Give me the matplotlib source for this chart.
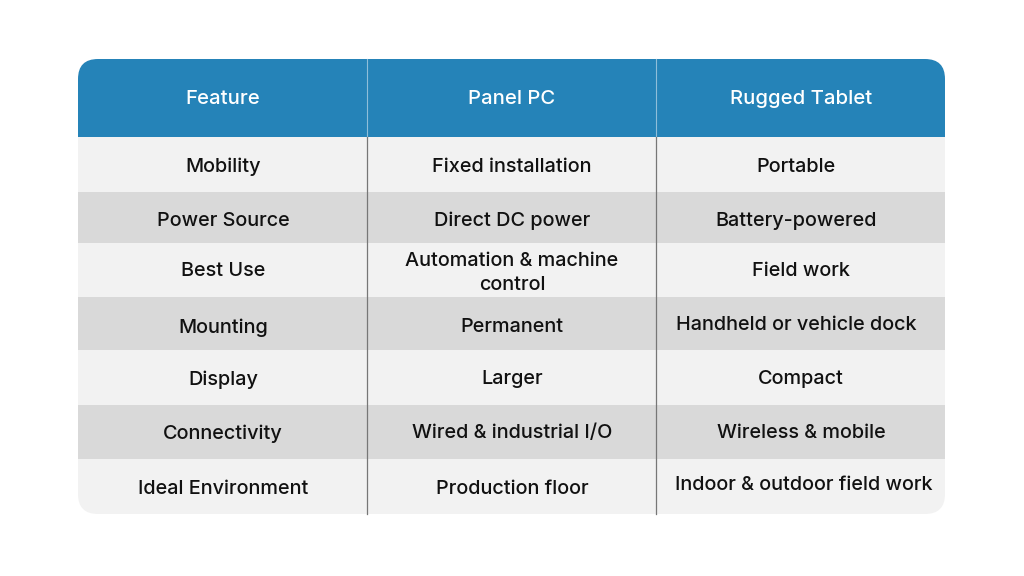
import matplotlib
matplotlib.use("Agg")
import matplotlib.pyplot as plt
from matplotlib.patches import FancyBboxPatch, Rectangle

W, H = 1024, 576

headers = ["Feature", "Panel PC", "Rugged Tablet"]
features = ["Mobility", "Power Source", "Best Use", "Mounting", "Display", "Connectivity", "Ideal Environment"]
panel_pc = ["Fixed installation", "Direct DC power", "Automation & machine\ncontrol", "Permanent", "Larger",
            "Wired & industrial I/O", "Production floor"]
rugged = ["Portable", "Battery-powered", "Field work", "Handheld or vehicle dock", "Compact",
          "Wireless & mobile", "Indoor & outdoor field work"]

# layout in reference pixels
col_edges = [78, 367, 656, 945]
row_edges = [137, 192, 243, 297, 350, 405, 459, 514]
top = 59
header_x = [223, 512, 801]
rugged_x = [796, 796, 801, 796, 801, 801, 804]
rugged_y = [164.5, 218.5, 269.5, 323, 377.5, 431.5, 483.5]
row_y = [164.5, 218.5, 268.5, 325.5, 377.5, 431.5, 487.5]

plt.rcParams['font.family'] = ['Inter', 'Open Sans', 'DejaVu Sans']

fig = plt.figure(figsize=(W / 100, H / 100), dpi=100, facecolor="white")
ax = fig.add_axes([0, 0, 1, 1])
ax.set_xlim(0, W)
ax.set_ylim(H, 0)
ax.axis("off")

# rounded card, used as clip for the rows
card = FancyBboxPatch((col_edges[0] + 20, top + 20), col_edges[-1] - col_edges[0] - 40, row_edges[-1] - top - 40,
                      boxstyle="round,pad=20,rounding_size=20", fc="none", ec="none")
ax.add_patch(card)

hdr = Rectangle((78, top), 867, row_edges[0] - top, fc="#2583B8", ec="none")
ax.add_patch(hdr)
hdr.set_clip_path(card)

for i in range(7):
    color = "#F2F2F2" if i % 2 == 0 else "#D9D9D9"
    r = Rectangle((78, row_edges[i]), 867, row_edges[i + 1] - row_edges[i], fc=color, ec="none")
    ax.add_patch(r)
    r.set_clip_path(card)

for x in col_edges[1:3]:
    ax.plot([x, x], [top, row_edges[0]], color="#8FBEDA", lw=0.8)
    ax.plot([x, x], [row_edges[0], row_edges[-1]], color="#777777", lw=0.9)

for t, x in zip(headers, header_x):
    ax.text(x, 96.5, t, color="white", fontsize=14.6, fontweight="medium", ha="center", va="center_baseline")

for i in range(7):
    ax.text(223, row_y[i], features[i], color="#111111", fontsize=14.3, fontweight="medium", ha="center",
            va="center_baseline")
    ax.text(512, row_y[i], panel_pc[i], color="#111111", fontsize=14.3, fontweight="medium", ha="center",
            va="center_baseline", linespacing=1.4)
    ax.text(rugged_x[i], rugged_y[i], rugged[i], color="#111111", fontsize=14.3, fontweight="medium", ha="center",
            va="center_baseline")

fig.savefig("out.png", dpi=100)
